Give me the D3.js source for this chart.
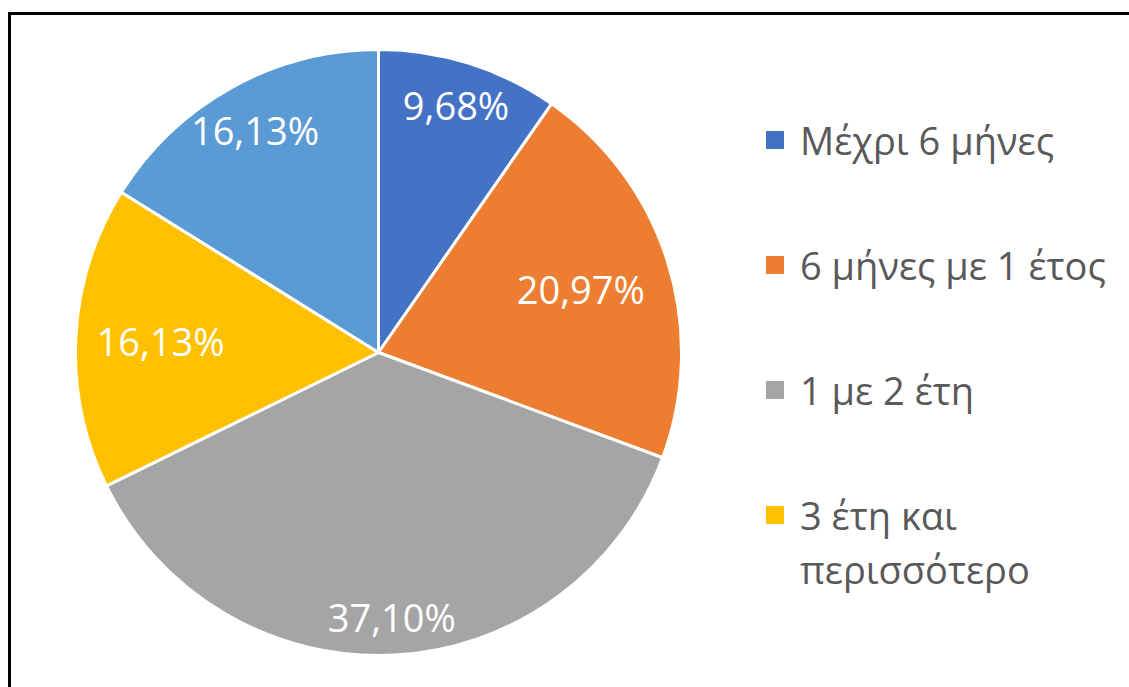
<!DOCTYPE html>
<html>
<head>
<meta charset="utf-8">
<script src="https://cdn.jsdelivr.net/npm/d3@7"></script>
<style>
  html, body { margin: 0; padding: 0; background: #fff; }
  svg { display: block; }
</style>
</head>
<body>
<svg id="chart" width="1129" height="687"></svg>
<script>
// ---- data ----
const categories = ["Μέχρι 6 μήνες", "6 μήνες με 1 έτος", "1 με 2 έτη", "3 έτη και περισσότερο", "Άλλο"];
const values = [9.68, 20.97, 37.10, 16.13, 16.13];
const valueLabels = ["9,68%", "20,97%", "37,10%", "16,13%", "16,13%"];
const legendLines = [["Μέχρι 6 μήνες"], ["6 μήνες με 1 έτος"], ["1 με 2 έτη"], ["3 έτη και", "περισσότερο"]];

// ---- styling / layout ----
const colors = ["#4472C4", "#ED7D31", "#A5A5A5", "#FFC000", "#5B9BD5"];
const labelRadiusFrac = [0.855, 0.70, 0.875, 0.72, 0.84];
const W = 1129, H = 687;
const cx = 378.5, cy = 352.5, R = 303;
const font = "'Open Sans', 'DejaVu Sans', sans-serif";

const svg = d3.select("#chart");
svg.append("rect").attr("width", W).attr("height", H).attr("fill", "#fff");

// frame
svg.append("rect")
  .attr("x", 9.5).attr("y", 13.5)
  .attr("width", W + 20).attr("height", H + 20)
  .attr("fill", "none").attr("stroke", "#000").attr("stroke-width", 3);

const pie = d3.pie().sort(null).value(d => d)(values);
const arc = d3.arc().innerRadius(0).outerRadius(R);

const g = svg.append("g").attr("transform", `translate(${cx},${cy})`);
g.selectAll("path.slice").data(pie).join("path")
  .attr("class", "slice")
  .attr("d", arc)
  .attr("fill", (d, i) => colors[i])
  .attr("stroke", "#fff")
  .attr("stroke-width", 3)
  .attr("stroke-linejoin", "round");

g.selectAll("text.lbl").data(pie).join("text")
  .attr("class", "lbl")
  .attr("transform", (d, i) => {
    const r = R * labelRadiusFrac[i];
    const c = d3.arc().innerRadius(r).outerRadius(r).centroid(d);
    return `translate(${c[0]},${c[1]})`;
  })
  .attr("text-anchor", "middle")
  .attr("dominant-baseline", "central")
  .attr("fill", "#fff")
  .style("font-family", font)
  .style("font-size", "38px")
  .text((d, i) => valueLabels[i]);

// legend
const legendX = 766, legendY0 = 140, legendStep = 125, lineH = 54;
const lg = svg.append("g");
legendLines.forEach((lines, i) => {
  const y = legendY0 + i * legendStep;
  lg.append("rect")
    .attr("x", legendX).attr("y", y - 9)
    .attr("width", 18).attr("height", 18)
    .attr("fill", colors[i]);
  const t = lg.append("text")
    .attr("x", legendX + 34).attr("y", y)
    .attr("dominant-baseline", "central")
    .attr("fill", "#595959")
    .style("font-family", font)
    .style("font-size", "38px");
  lines.forEach((ln, k) => {
    t.append("tspan").attr("x", legendX + 34).attr("dy", k === 0 ? 0 : lineH).text(ln);
  });
});
</script>
</body>
</html>
